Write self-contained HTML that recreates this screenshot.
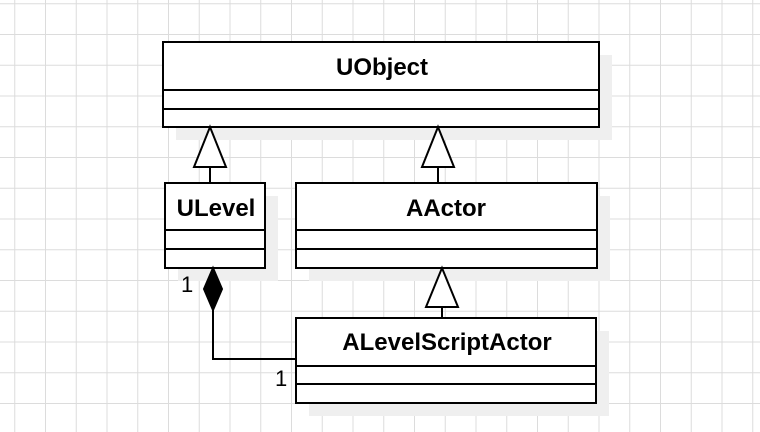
<!DOCTYPE html>
<html><head><style>html,body{margin:0;padding:0;background:#fff}svg{display:block}</style></head><body>
<svg width="760" height="432" xmlns="http://www.w3.org/2000/svg" font-family="Liberation Sans, sans-serif">
<defs>
<pattern id="g" x="14.25" y="3.25" width="30.75" height="30.75" patternUnits="userSpaceOnUse">
<path d="M0 0H30.75M0 0V30.75" stroke="#dcdcdc" stroke-width="2" fill="none"/>
</pattern>
</defs>
<rect width="760" height="432" fill="url(#g)"/>
<g fill="#efefef">
<rect x="176" y="55" width="436" height="85"/>
<rect x="178" y="196" width="100" height="85"/>
<rect x="309" y="196" width="301" height="85"/>
<rect x="309" y="331" width="300" height="85"/>
</g>
<g stroke="#000" stroke-width="2" fill="#fff">
<rect x="163" y="42" width="436" height="85"/>
<line x1="163" y1="90" x2="599" y2="90"/><line x1="163" y1="109" x2="599" y2="109"/>
<rect x="165" y="183" width="100" height="85"/>
<line x1="165" y1="230" x2="265" y2="230"/><line x1="165" y1="249" x2="265" y2="249"/>
<rect x="296" y="183" width="301" height="85"/>
<line x1="296" y1="230" x2="597" y2="230"/><line x1="296" y1="249" x2="597" y2="249"/>
<rect x="296" y="318" width="300" height="85"/>
<line x1="296" y1="366" x2="596" y2="366"/><line x1="296" y1="384" x2="596" y2="384"/>
<line x1="210" y1="167" x2="210" y2="183"/>
<polygon points="210,127 194,167 226,167"/>
<line x1="438" y1="167" x2="438" y2="183"/>
<polygon points="438,127 422,167 454,167"/>
<line x1="442" y1="307" x2="442" y2="318"/>
<polygon points="442,268 426,307 458,307"/>
<polyline points="213,310 213,359 296,359" fill="none"/>
<polygon points="213,268 222,289 213,310 204,289" fill="#000"/>
</g>
<g font-weight="bold" font-size="24" text-anchor="middle" fill="#000">
<text x="382" y="75">UObject</text>
<text x="216" y="216">ULevel</text>
<text x="446" y="216">AActor</text>
<text x="447" y="350">ALevelScriptActor</text>
</g>
<g font-size="22" fill="#000">
<text x="181" y="292">1</text>
<text x="275" y="386">1</text>
</g>
</svg>
</body></html>
